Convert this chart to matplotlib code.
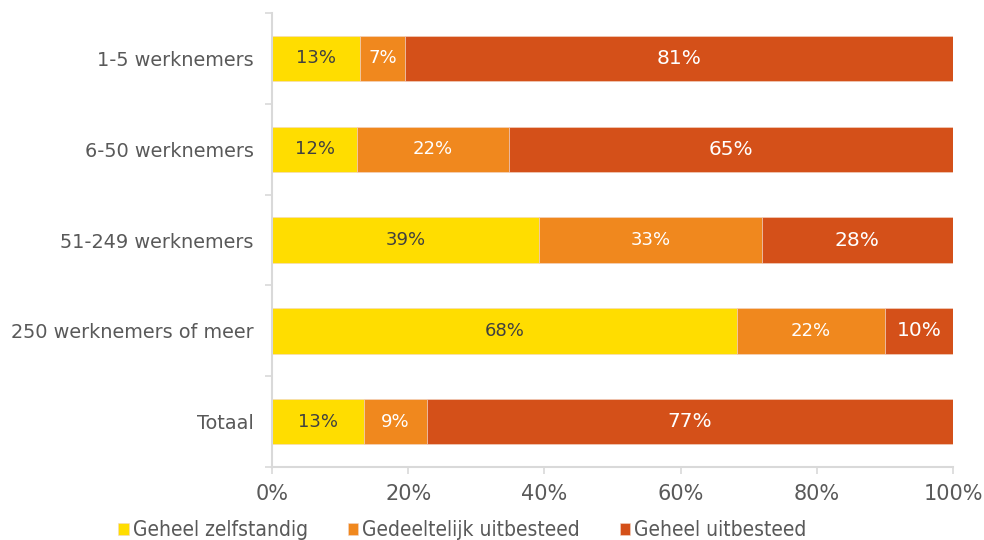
import matplotlib
matplotlib.use("Agg")
import matplotlib.pyplot as plt
import numpy as np

categories = ["1-5 werknemers", "6-50 werknemers", "51-249 werknemers",
              "250 werknemers of meer", "Totaal"]
series_names = ["Geheel zelfstandig", "Gedeeltelijk uitbesteed", "Geheel uitbesteed"]
zelfstandig = [12.9, 12.5, 39.2, 68.3, 13.5]
gedeeltelijk = [6.6, 22.3, 32.7, 21.7, 9.3]
uitbesteed = [80.5, 65.2, 28.1, 10.0, 77.2]
labels_z = ["13%", "12%", "39%", "68%", "13%"]
labels_g = ["7%", "22%", "33%", "22%", "9%"]
labels_u = ["81%", "65%", "28%", "10%", "77%"]
xticks = [0, 20, 40, 60, 80, 100]
xticklabels = ["0%", "20%", "40%", "60%", "80%", "100%"]

colors = ["#FFDD00", "#F0881E", "#D45019"]
text_colors = ["#404040", "white", "white"]
label_sizes = [13, 13, 14.5]

plt.rcParams['font.family'] = ['DejaVu Sans']
fig = plt.figure(figsize=(9.84, 5.4), dpi=100)
ax = fig.add_axes([272/984, 1-467/540, (953-272)/984, (467-13)/540])

y = np.arange(len(categories))
left = np.zeros(len(categories))
data = [zelfstandig, gedeeltelijk, uitbesteed]
labs = [labels_z, labels_g, labels_u]
for i, vals in enumerate(data):
    vals = np.array(vals)
    ax.barh(y, vals, left=left, height=0.5, color=colors[i], label=series_names[i],
            edgecolor="#f2d6c8", linewidth=0.4)
    for j in range(len(categories)):
        ax.text(left[j] + vals[j]/2, y[j], labs[i][j], ha="center", va="center",
                color=text_colors[i], fontsize=label_sizes[i])
    left += vals

ax.set_xlim(0, 100)
ax.set_ylim(len(categories) - 0.5, -0.5)
ax.set_yticks(y)
ax.set_yticklabels(categories, fontsize=13.9, color="#595959")
ax.set_yticks(np.arange(-0.5, len(categories) + 0.5, 1), minor=True)
ax.tick_params(axis="y", which="major", length=0, pad=13)
ax.tick_params(axis="y", which="minor", length=5, color="#d9d9d9", width=1.2)
ax.set_xticks(xticks)
ax.set_xticklabels(xticklabels, fontsize=15, color="#595959")
ax.tick_params(axis="x", length=5, color="#d9d9d9", width=1.2, pad=7)
for s in ["top", "right"]:
    ax.spines[s].set_visible(False)
for s in ["left", "bottom"]:
    ax.spines[s].set_color("#d9d9d9")
    ax.spines[s].set_linewidth(1.5)

leg = fig.legend(loc="lower center", bbox_to_anchor=(0.47, -0.035), ncol=3, frameon=False,
                 fontsize=15, handlelength=0.5, handleheight=0.5, handletextpad=0.2,
                 columnspacing=1.9)
for t in leg.get_texts():
    t.set_color("#595959")
    t.set_fontstretch("condensed")

fig.savefig("out.png", dpi=100)
